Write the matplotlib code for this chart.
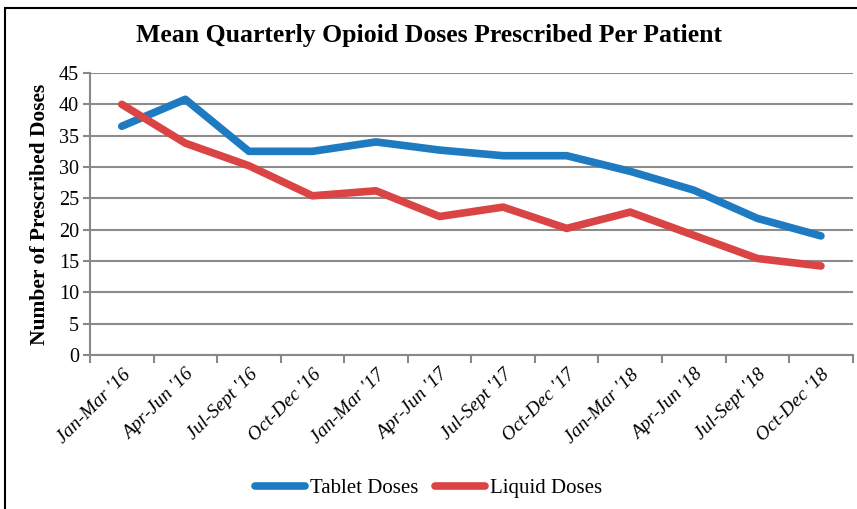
import numpy as np
import matplotlib.pyplot as plt
from matplotlib.patches import Rectangle

quarters = ["Jan-Mar '16", "Apr-Jun '16", "Jul-Sept '16", "Oct-Dec '16",
            "Jan-Mar '17", "Apr-Jun '17", "Jul-Sept '17", "Oct-Dec '17",
            "Jan-Mar '18", "Apr-Jun '18", "Jul-Sept '18", "Oct-Dec '18"]
tablet = [36.5, 40.8, 32.5, 32.5, 34.0, 32.7, 31.8, 31.8, 29.3, 26.3, 21.8, 19.0]
liquid = [40.0, 33.8, 30.2, 25.4, 26.2, 22.1, 23.6, 20.2, 22.8, 19.1, 15.4, 14.2]

plt.rcParams['font.family'] = ['Liberation Serif', 'DejaVu Serif']

fig = plt.figure(figsize=(8.57, 5.09), dpi=100)
ax = fig.add_axes([0.105, 0.3026, 0.89, 0.554])

x = np.arange(len(quarters))
ax.plot(x, tablet, color='#1f7bc1', lw=5.5, solid_capstyle='round', label='Tablet Doses')
ax.plot(x, liquid, color='#db4444', lw=5.5, solid_capstyle='round', label='Liquid Doses')

ax.set_xlim(-0.5, len(quarters) - 0.5)
ax.set_ylim(0, 45)
ax.set_yticks(range(0, 46, 5))
ax.tick_params(axis='y', labelsize=14.5, length=5, color='#888888', width=1.5, pad=3)
ax.yaxis.grid(True, color='#8c8c8c', lw=1.5)
ax.set_axisbelow(True)

ax.set_xticks(x)
ax.set_xticklabels(quarters, rotation=45, ha='right', rotation_mode='anchor',
                   fontsize=14, style='italic')
ax.tick_params(axis='x', which='major', length=0, pad=8)
ax.set_xticks(np.arange(-0.5, len(quarters)), minor=True)
ax.tick_params(axis='x', which='minor', length=6, color='#888888', width=1.5)

for s in ['top', 'right']:
    ax.spines[s].set_visible(False)
ax.spines['left'].set_color('#888888')
ax.spines['bottom'].set_color('#888888')
ax.spines['left'].set_linewidth(1.5)
ax.spines['bottom'].set_linewidth(1.5)

ax.set_ylabel('Number of Prescribed Doses', fontsize=15.5, fontweight='bold', labelpad=6)
fig.text(0.5, 0.93, 'Mean Quarterly Opioid Doses Prescribed Per Patient',
         ha='center', va='center', fontsize=18.5, fontweight='bold')

fig.legend(loc='center', bbox_to_anchor=(0.5, 0.04), ncol=2, frameon=False,
           fontsize=15, handlelength=2.4, handletextpad=0.25, columnspacing=0.8)

fig.patches.append(Rectangle((0.006, -0.01), 1.1, 0.994, transform=fig.transFigure,
                             fill=False, edgecolor='black', lw=1.5))

fig.savefig('out.png', dpi=100)
